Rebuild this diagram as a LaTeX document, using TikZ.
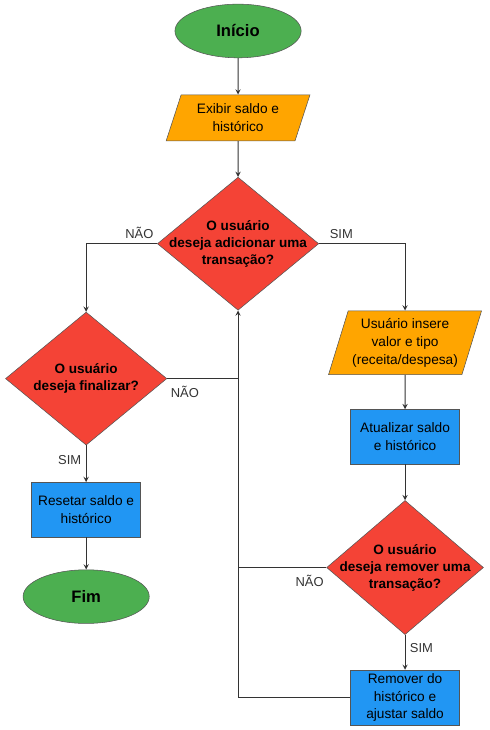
\documentclass[tikz,border=0pt]{standalone}
\usepackage{fontspec}
\setmainfont{Liberation Sans}
\usetikzlibrary{shapes,arrows,positioning,calc}
\usepackage{xcolor}
\definecolor{termgreen}{HTML}{4CAF50}
\definecolor{inputorange}{HTML}{FFA500}
\definecolor{choicered}{HTML}{F44336}
\definecolor{taskblue}{HTML}{2196F3}
\definecolor{edgegray}{HTML}{555555}
\definecolor{linegray}{HTML}{333333}

\begin{document}
\begin{tikzpicture}[node distance=2.3cm, >=stealth,
    terminal/.style={ellipse, draw=edgegray, fill=termgreen, minimum width=3.34cm, minimum height=1.42cm, font=\fontsize{12.5}{14}\selectfont\bfseries},
    inout/.style={trapezium, trapezium left angle=70, trapezium right angle=110, trapezium stretches=true, draw=edgegray, fill=inputorange, align=center, inner sep=1pt, font=\fontsize{10.3}{13.5}\selectfont},
    task/.style={rectangle, draw=edgegray, fill=taskblue, minimum width=2.88cm, minimum height=1.45cm, align=center, inner sep=1pt, font=\fontsize{10.3}{13.5}\selectfont},
    choice/.style={diamond, draw=edgegray, fill=choicered, minimum width=4.27cm, minimum height=3.52cm, inner sep=0pt},
    choicetext/.style={align=center, font=\fontsize{10.2}{12.75}\selectfont\bfseries},
    answer/.style={font=\fontsize{9.75}{11}\selectfont, text=linegray},
    flow/.style={draw=linegray, line width=0.75pt}]

    \useasboundingbox (0,0) rectangle (12.965,-19.32);

    \node [terminal] (inicio) at (6.30,-0.82) {Início};
    \node [inout, below of=inicio, minimum width=3.81cm, minimum height=1.22cm] (exibir) {Exibir saldo e\\histórico};
    \node [choice, below of=exibir, yshift=-1.03cm, label={[choicetext]center:O usuário\\deseja adicionar uma\\transação?}] (q1) {};

    % ramo da esquerda
    \node [choice, below of=q1, xshift=-4.02cm, yshift=-1.27cm, label={[choicetext]center:O usuário\\deseja finalizar?}] (q2) {};
    \node [task, below of=q2, yshift=-1.17cm] (resetar) {Resetar saldo e\\histórico};
    \node [terminal, below of=resetar] (fim) {Fim};

    % ramo da direita
    \node [inout, below of=q1, xshift=4.42cm, yshift=-0.32cm, minimum width=4.05cm, minimum height=1.69cm] (insere) {Usuário insere\\valor e tipo\\(receita/despesa)};
    \node [task, below of=insere, yshift=-0.19cm] (atualizar) {Atualizar saldo\\e histórico};
    \node [choice, below of=atualizar, yshift=-1.16cm, minimum width=4.15cm, minimum height=3.55cm, label={[choicetext]center:O usuário\\deseja remover uma\\transação?}] (q3) {};
    \node [task, below of=q3, yshift=-1.14cm] (remover) {Remover do\\histórico e\\ajustar saldo};

    \coordinate (j2) at (q2.east -| q1.south);
    \coordinate (j3) at (q3.west -| q1.south);

    \draw[flow, ->] (inicio) -- (exibir);
    \draw[flow, ->] (exibir) -- (q1);
    \draw[flow, ->] (q1.west) -| node[answer, pos=0.125, above] {NÃO} (q2.north);
    \draw[flow, ->] (q1.east) -| node[answer, pos=0.13, above] {SIM} (insere.north);
    \draw[flow] (q2.east) -- node[answer, pos=0.25, below, yshift=-2pt] {NÃO} (j2);
    \draw[flow, ->] (q2.south) -- node[answer, pos=0.4, left] {SIM} (resetar.north);
    \draw[flow, ->] (resetar) -- (fim);
    \draw[flow, ->] (insere.south) -- (atualizar.north);
    \draw[flow, ->] (atualizar) -- (q3.north);
    \draw[flow] (q3.west) -- node[answer, pos=0.19, below, yshift=-2pt] {NÃO} (j3);
    \draw[flow, ->] (q3.south) -- node[answer, pos=0.39, right] {SIM} (remover.north);
    \draw[flow, ->] (remover.west) -| (q1.south);
\end{tikzpicture}
\end{document}
